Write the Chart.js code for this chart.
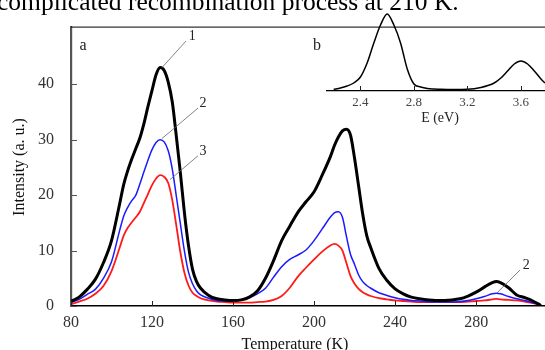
<!DOCTYPE html>
<html>
<head>
<meta charset="utf-8">
<script src="https://cdn.jsdelivr.net/npm/chart.js@4.4.1/dist/chart.umd.min.js"></script>
<style>
  body { margin: 0; background: #fff; }
  #wrap { position: relative; width: 545px; height: 350px; overflow: hidden; }
  #main { position: absolute; left: 0; top: 0; }
  #inset { position: absolute; left: 300px; top: 0; }
  #caption { position: absolute; left: -3px; top: -11px; font: 25.5px/25px "Liberation Serif", serif; white-space: nowrap; color: #000; }
</style>
</head>
<body>
<div id="wrap">
  <canvas id="main" width="545" height="350"></canvas>
  <canvas id="inset" width="245" height="130"></canvas>
  <div id="caption">complicated recombination process at 210 K.</div>
</div>
<script>
// temperature grid (K), shared by the three glow curves
const tempK = [80, 84, 88, 92, 96, 100, 104,
  106, 108, 110, 112, 114, 116, 118, 120, 122, 124, 126, 128, 130, 132, 134, 136, 138, 140, 142, 144,
  148, 152, 156, 160, 164, 168, 172, 176, 180, 184, 188, 192, 196, 200, 204, 208,
  210, 212, 214, 216, 218, 220, 222, 224, 226, 228,
  232, 236, 240, 244, 248, 252,
  260, 268,
  272, 276, 280, 284, 288,
  290, 292,
  296, 300, 304, 308, 312];

// curve 1 (black)
const curve1 = [0.8, 1.6, 3.0, 4.8, 7.8, 11.8, 18.4,
  21.9, 24.4, 26.5, 28.4, 30.3, 32.9, 36.0, 38.9, 41.7, 43.0, 42.5, 40.4, 36.8, 30.6, 24.0, 16.8, 10.9, 6.6, 4.4, 3.2,
  1.9, 1.3, 1.1, 1.0, 1.1, 1.6, 2.7, 5.0, 8.2, 11.8, 14.4, 16.9, 18.8, 20.6, 23.6, 26.9,
  28.9, 30.5, 31.6, 31.9, 30.8, 26.6, 21.6, 16.6, 12.7, 10.5,
  6.8, 4.6, 3.1, 2.2, 1.6, 1.3,
  1.0, 1.1,
  1.3, 1.8, 2.5, 3.4, 4.2,
  4.4, 4.2,
  3.3, 2.0, 1.5, 0.9, 0.1];

// curve 2 (blue)
const curve2 = [0.6, 1.2, 2.1, 3.0, 5.0, 8.0, 13.6,
  16.2, 17.8, 19.0, 20.0, 22.0, 24.2, 26.3, 28.2, 29.5, 30.0, 29.6, 28.0, 24.7, 19.8, 14.8, 9.9, 6.1, 4.0, 2.7, 2.0,
  1.4, 1.0, 0.9, 0.9, 1.1, 1.5, 2.2, 3.2, 5.2, 7.1, 8.4, 9.2, 10.1, 11.8, 13.9, 16.0,
  16.8, 17.0, 16.0, 12.5, 9.3, 7.5, 5.6, 4.4, 3.7, 3.2,
  2.4, 1.9, 1.5, 1.2, 1.0, 0.9,
  0.7, 0.7,
  0.8, 1.0, 1.3, 1.7, 2.2,
  2.3, 2.2,
  1.7, 1.3, 1.0, 0.6, 0.2];

// curve 3 (red)
const curve3 = [0.3, 0.8, 1.3, 2.2, 3.6, 6.3, 10.5,
  12.7, 14.1, 15.1, 16.0, 17.0, 18.6, 20.2, 21.8, 23.0, 23.6, 23.3, 22.2, 19.1, 14.5, 9.7, 6.0, 3.7, 2.4, 1.8, 1.4,
  1.0, 0.8, 0.7, 0.6, 0.6, 0.6, 0.7, 0.8, 1.1, 1.8, 3.3, 5.3, 6.9, 8.4, 9.8, 10.9,
  11.2, 10.9, 10.0, 7.7, 5.4, 4.0, 3.1, 2.5, 2.1, 1.8,
  1.4, 1.2, 1.0, 0.9, 0.8, 0.7,
  0.7, 0.7,
  0.7, 0.8, 0.9, 1.0, 1.2,
  1.3, 1.2,
  1.1, 1.0, 0.8, 0.5, 0.2];

const xTicks = [80, 120, 160, 200, 240, 280];
const yTicks = [0, 10, 20, 30, 40];

// inset b: emission spectrum
const energyEv = [2.20, 2.25, 2.30, 2.35, 2.40, 2.45, 2.50, 2.55, 2.60, 2.65, 2.70, 2.75, 2.80, 2.85, 2.90, 2.95,
  3.00, 3.10, 3.20, 3.30, 3.40, 3.45, 3.50, 3.55, 3.60, 3.65, 3.70, 3.75, 3.78];
const insetIntensity = [1.7, 3, 5, 8, 14, 28, 48, 66, 77, 66, 48, 22, 7, 4, 2.5, 2,
  1.7, 1.5, 1.7, 3.5, 8, 13, 20, 27, 30, 27, 20, 12, 8];
const insetTicks = [2.4, 2.8, 3.2, 3.6];

// curve labels with leader lines, in data units (K, a.u.)
const leaders = [
  { text: "1", at: [139.8, 48.7], from: [136.8, 47.8], to: [124.9, 43.0] },
  { text: "2", at: [145.2, 36.5], from: [142.7, 35.7], to: [124.9, 30.2] },
  { text: "3", at: [145.2, 27.9], from: [142.7, 27.1], to: [128.9, 22.8] },
  { text: "2", at: [304.7, 7.4], from: [301.7, 6.5], to: [290.4, 2.4] }
];
const panelLabels = [
  { text: "a", at: [85.9, 47.0] },
  { text: "b", at: [201.5, 47.0] }
];

const serif = '"Liberation Serif", "Times New Roman", serif';
const pts = (ys) => tempK.map((t, i) => ({ x: t, y: ys[i] }));

const mainDecor = {
  id: "mainDecor",
  afterDraw(chart) {
    const { ctx, chartArea: a, scales: { x, y } } = chart;
    ctx.save();
    // top frame line
    ctx.strokeStyle = "#000";
    ctx.lineWidth = 1;
    ctx.beginPath();
    ctx.moveTo(a.left, a.top + 0.5);
    ctx.lineTo(a.right, a.top + 0.5);
    ctx.stroke();

    // inward tick marks
    ctx.strokeStyle = "#222";
    xTicks.forEach((v) => {
      const px = Math.round(x.getPixelForValue(v)) + 0.5;
      ctx.beginPath();
      ctx.moveTo(px, a.bottom);
      ctx.lineTo(px, a.bottom - 5);
      ctx.stroke();
    });
    ctx.strokeStyle = "#555";
    yTicks.forEach((v) => {
      const py = Math.round(y.getPixelForValue(v)) + 0.5;
      ctx.beginPath();
      ctx.moveTo(a.left, py);
      ctx.lineTo(a.left + 6, py);
      ctx.stroke();
    });

    // leader lines
    ctx.strokeStyle = "#666";
    ctx.lineWidth = 0.8;
    leaders.forEach((l) => {
      ctx.beginPath();
      ctx.moveTo(x.getPixelForValue(l.from[0]), y.getPixelForValue(l.from[1]));
      ctx.lineTo(x.getPixelForValue(l.to[0]), y.getPixelForValue(l.to[1]));
      ctx.stroke();
    });
    ctx.fillStyle = "#222";
    ctx.textAlign = "center";
    ctx.textBaseline = "middle";
    ctx.font = "14px " + serif;
    leaders.forEach((l) => {
      ctx.fillText(l.text, x.getPixelForValue(l.at[0]), y.getPixelForValue(l.at[1]));
    });
    ctx.font = "16px " + serif;
    panelLabels.forEach((l) => {
      ctx.fillText(l.text, x.getPixelForValue(l.at[0]), y.getPixelForValue(l.at[1]));
    });

    // axis titles
    ctx.fillStyle = "#111";
    ctx.textBaseline = "alphabetic";
    ctx.fillText("Temperature (K)", 295, 349);
    ctx.translate(20, 167);
    ctx.rotate(-Math.PI / 2);
    ctx.textBaseline = "middle";
    ctx.fillText("Intensity (a. u.)", 0, 0);
    ctx.restore();
  }
};

new Chart(document.getElementById("main"), {
  type: "line",
  data: {
    datasets: [
      { label: "1", data: pts(curve1), borderColor: "#000", borderWidth: 3 },
      { label: "2", data: pts(curve2), borderColor: "#1a1aff", borderWidth: 1.5 },
      { label: "3", data: pts(curve3), borderColor: "#ff1a1a", borderWidth: 1.8 }
    ]
  },
  options: {
    responsive: false,
    animation: false,
    devicePixelRatio: 1,
    layout: { padding: { top: 12, right: 0, left: 0, bottom: 0 } },
    elements: { point: { radius: 0 }, line: { cubicInterpolationMode: "monotone" } },
    plugins: { legend: { display: false }, tooltip: { enabled: false } },
    scales: {
      x: {
        type: "linear",
        min: 80,
        max: 314,
        afterBuildTicks: (s) => { s.ticks = xTicks.map((v) => ({ value: v })); },
        afterFit: (s) => { s.height = 44; },
        grid: { display: false, drawTicks: false },
        border: { color: "#000", width: 1.5 },
        ticks: { font: { family: serif, size: 16 }, color: "#333", padding: 7, maxRotation: 0 }
      },
      y: {
        min: 0,
        max: 50.4,
        afterBuildTicks: (s) => { s.ticks = yTicks.map((v) => ({ value: v })); },
        afterFit: (s) => { s.width = 71; },
        grid: { display: false, drawTicks: false },
        border: { color: "#555", width: 2.2 },
        ticks: { font: { family: serif, size: 16 }, color: "#333", padding: 17 }
      }
    }
  },
  plugins: [mainDecor]
});

const insetDecor = {
  id: "insetDecor",
  afterDraw(chart) {
    const { ctx, chartArea: a, scales: { x } } = chart;
    ctx.save();
    ctx.strokeStyle = "#222";
    ctx.lineWidth = 1;
    insetTicks.forEach((v) => {
      const px = Math.round(x.getPixelForValue(v)) + 0.5;
      ctx.beginPath();
      ctx.moveTo(px, a.bottom);
      ctx.lineTo(px, a.bottom - 5);
      ctx.stroke();
    });
    ctx.fillStyle = "#222";
    ctx.font = "14px " + serif;
    ctx.textAlign = "center";
    ctx.fillText("E (eV)", 140, 122);
    ctx.restore();
  }
};

new Chart(document.getElementById("inset"), {
  type: "line",
  data: {
    datasets: [{
      data: energyEv.map((e, i) => ({ x: e, y: insetIntensity[i] })),
      borderColor: "#000",
      borderWidth: 1.5
    }]
  },
  options: {
    responsive: false,
    animation: false,
    devicePixelRatio: 1,
    layout: { padding: { left: 27, top: 12, right: 0, bottom: 0 } },
    elements: { point: { radius: 0 }, line: { cubicInterpolationMode: "monotone" } },
    plugins: { legend: { display: false }, tooltip: { enabled: false } },
    scales: {
      x: {
        type: "linear",
        min: 2.15,
        max: 3.78,
        afterBuildTicks: (s) => { s.ticks = insetTicks.map((v) => ({ value: v })); },
        afterFit: (s) => { s.height = 39; },
        grid: { display: false, drawTicks: false },
        border: { color: "#000", width: 1.2 },
        ticks: { font: { family: serif, size: 13 }, color: "#444", padding: 4, maxRotation: 0, callback: (v) => v.toFixed(1) }
      },
      y: { display: false, min: 0, max: 79 }
    }
  },
  plugins: [insetDecor]
});
</script>
</body>
</html>
